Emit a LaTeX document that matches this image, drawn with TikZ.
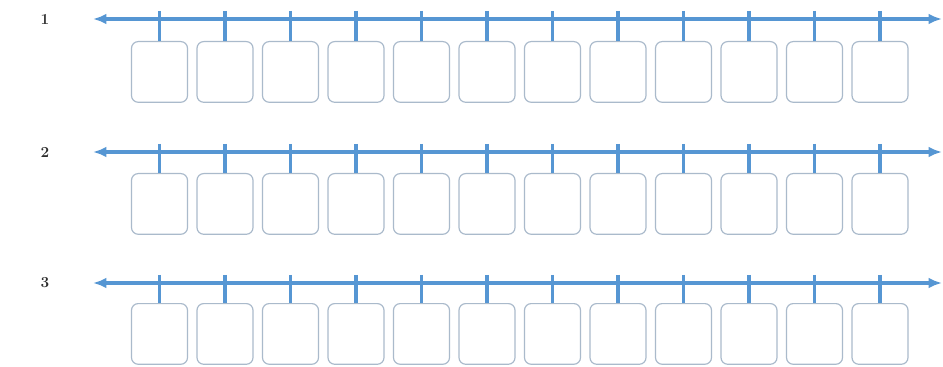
\documentclass[tikz,border=0pt]{standalone}
\usetikzlibrary{arrows.meta}
\definecolor{lineblue}{RGB}{86,150,211}
\definecolor{boxgray}{RGB}{170,186,203}
\definecolor{labelgray}{RGB}{45,45,45}
\tikzset{
  numline/.style={draw=lineblue, line width=2.4pt, {Latex[length=10pt,width=8pt]}-{Latex[length=10pt,width=8pt]}},
  tickline/.style={draw=lineblue, line width=2.4pt},
  answerbox/.style={draw=boxgray, line width=0.9pt, rounded corners=5pt, minimum width=42pt, minimum height=45.5pt, inner sep=0pt, anchor=north},
  rowlabel/.style={text=labelgray, font=\fontsize{11.5}{13}\selectfont\bfseries, inner sep=0pt}
}
\begin{document}
\begin{tikzpicture}[x=0.75pt,y=-0.75pt]
\useasboundingbox (0,0) rectangle (943,367);
\foreach \r/\ly/\bt in {1/19/41, 2/152/173, 3/283/303} {
  \node[rowlabel] (lab\r) at (45,\ly) {\r};
  \coordinate (L\r) at (93,\ly);
  \coordinate (R\r) at (942,\ly);
  \draw[numline] (L\r) -- (R\r);
  \foreach \i in {0,...,11} {
    \pgfmathsetmacro{\xx}{159.5+65.5*\i}
    \node[answerbox] (b\r-\i) at (\xx,\bt) {};
    \coordinate (t\r-\i) at (\xx,\ly-8);
    \draw[tickline] (t\r-\i) -- (b\r-\i.north);
  }
}
\end{tikzpicture}
\end{document}
